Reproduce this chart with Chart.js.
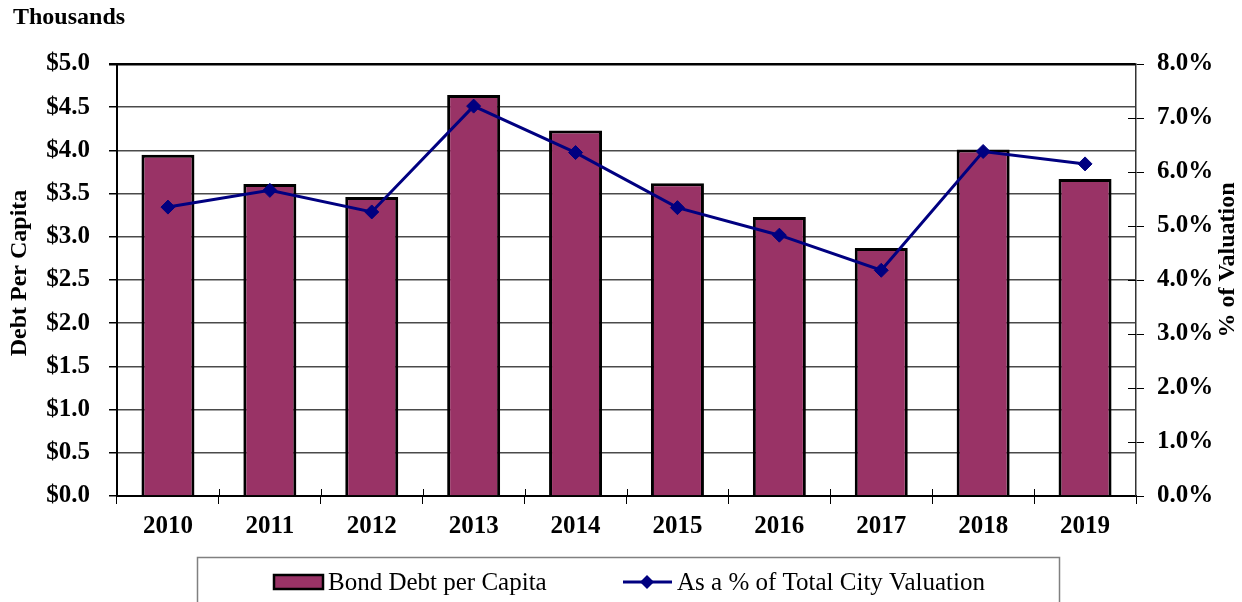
<!DOCTYPE html>
<html>
<head>
<meta charset="utf-8">
<title>Bond Debt per Capita</title>
<script src="https://cdn.jsdelivr.net/npm/chart.js@4/dist/chart.umd.min.js"></script>
<style>
  html, body { margin: 0; padding: 0; background: #fff; }
  #wrap { width: 1242px; height: 602px; position: relative; }
</style>
</head>
<body>
<div id="wrap"><canvas id="debtChart"></canvas></div>
<script>
'use strict';

// Chart data
const years = ['2010', '2011', '2012', '2013', '2014', '2015', '2016', '2017', '2018', '2019'];
const debtPerCapita = [3.95, 3.61, 3.46, 4.64, 4.23, 3.62, 3.23, 2.87, 4.01, 3.67];   // thousands of $
const pctOfValuation = [5.35, 5.66, 5.26, 7.22, 6.36, 5.34, 4.83, 4.18, 6.38, 6.15]; // percent
const debtTicks = { min: 0, max: 5, step: 0.5 };
const pctTicks = { min: 0, max: 8, step: 1 };

const serif = '"Liberation Serif", "Times New Roman", serif';
const barColor = '#993366',
  lineColor = '#000080',
  gridColor = '#4a4a4a';

// Extra decorations: unit note, axis titles, inner tick marks, legend box
const extrasPlugin = {
  id: 'extras',
  afterDraw(chart) {
    const ctx = chart.ctx;
    const area = chart.chartArea;
    const xs = chart.scales.x, yp = chart.scales.yPct;
    ctx.save();

    // inner halves of the tick marks
    ctx.strokeStyle = '#000';
    ctx.lineWidth = 1;
    ctx.beginPath();
    for (let i = 1; i < years.length; i++) {
      const px = Math.round((xs.getPixelForTick(i - 1) + xs.getPixelForTick(i)) / 2) + 0.5;
      ctx.moveTo(px, area.bottom - 7);
      ctx.lineTo(px, area.bottom);
    }
    yp.ticks.forEach(function (t) {
      const py = Math.round(yp.getPixelForValue(t.value)) + 0.5;
      ctx.moveTo(area.right - 8, py);
      ctx.lineTo(area.right, py);
    });
    ctx.stroke();

    // unit note
    ctx.fillStyle = '#000';
    ctx.font = 'bold 24px ' + serif;
    ctx.textAlign = 'left';
    ctx.textBaseline = 'alphabetic';
    ctx.fillText('Thousands', 13, 24);

    // axis titles, both read bottom to top
    ctx.textAlign = 'center';
    ctx.textBaseline = 'middle';
    ctx.save();
    ctx.translate(20, 273);
    ctx.rotate(-Math.PI / 2);
    ctx.fillText('Debt Per Capita', 0, 0);
    ctx.restore();
    ctx.save();
    ctx.translate(1228, 260);
    ctx.rotate(-Math.PI / 2);
    ctx.fillText('% of Valuation', 0, 0);
    ctx.restore();

    // legend
    ctx.strokeStyle = '#808080';
    ctx.lineWidth = 1.5;
    ctx.strokeRect(197.5, 557.5, 862, 60);

    ctx.fillStyle = barColor;
    ctx.fillRect(274, 575, 49, 14);
    ctx.strokeStyle = '#000';
    ctx.lineWidth = 2.5;
    ctx.strokeRect(274, 575, 49, 14);

    ctx.strokeStyle = lineColor;
    ctx.lineWidth = 3;
    ctx.beginPath();
    ctx.moveTo(623, 582);
    ctx.lineTo(672, 582);
    ctx.stroke();
    ctx.fillStyle = lineColor;
    ctx.beginPath();
    ctx.moveTo(640, 582);
    ctx.lineTo(647, 575);
    ctx.lineTo(654, 582);
    ctx.lineTo(647, 589);
    ctx.closePath();
    ctx.fill();

    ctx.fillStyle = '#000';
    ctx.font = '25px ' + serif;
    ctx.textAlign = 'left';
    ctx.textBaseline = 'alphabetic';
    ctx.fillText(chart.data.datasets[0].label, 328, 590);
    ctx.fillText(chart.data.datasets[1].label, 677, 590);

    ctx.restore();
  }
};

const tickFont = { family: serif, size: 25, weight: 'bold' };

new Chart(document.getElementById('debtChart'), {
  type: 'bar',
  data: {
    labels: years,
    datasets: [
      {
        type: 'bar',
        label: 'Bond Debt per Capita',
        data: debtPerCapita,
        yAxisID: 'yDebt',
        backgroundColor: barColor,
        borderColor: '#000',
        borderWidth: 3,
        categoryPercentage: 1,
        barPercentage: 0.52,
        order: 1
      },
      {
        type: 'line',
        label: 'As a % of Total City Valuation',
        data: pctOfValuation,
        yAxisID: 'yPct',
        borderColor: lineColor,
        backgroundColor: lineColor,
        borderWidth: 3,
        tension: 0,
        pointStyle: 'rectRot',
        pointRadius: 7,
        pointBorderWidth: 1,
        order: 0
      }
    ]
  },
  options: {
    responsive: true,
    maintainAspectRatio: false,
    animation: false,
    layout: { padding: { top: 64, left: 0, right: 0, bottom: 0 } },
    plugins: {
      legend: { display: false },
      tooltip: { enabled: false }
    },
    scales: {
      x: {
        offset: true,
        grid: {
          offset: true,
          drawOnChartArea: false,
          color: '#000',
          tickLength: 8
        },
        border: { color: '#000', width: 2 },
        ticks: { color: '#000', font: tickFont, padding: 8, maxRotation: 0 },
        afterFit: function (scale) { scale.height = 106; }
      },
      yDebt: {
        position: 'left',
        min: debtTicks.min,
        max: debtTicks.max,
        grid: {
          color: function (c) { return c.tick && c.tick.value === debtTicks.max ? '#000' : gridColor; },
          lineWidth: function (c) { return c.tick && c.tick.value === debtTicks.max ? 2.5 : 1.5; },
          tickColor: '#000',
          tickLength: 8
        },
        border: { color: '#000', width: 2 },
        ticks: {
          stepSize: debtTicks.step,
          color: '#000',
          font: tickFont,
          padding: 19,
          callback: function (v) { return '$' + v.toFixed(1); }
        },
        afterFit: function (scale) { scale.width = 117; }
      },
      yPct: {
        position: 'right',
        min: pctTicks.min,
        max: pctTicks.max,
        grid: {
          drawOnChartArea: false,
          color: '#000',
          tickLength: 8
        },
        border: { color: '#333', width: 1.5 },
        ticks: {
          stepSize: pctTicks.step,
          color: '#000',
          font: tickFont,
          padding: 13,
          callback: function (v) { return v.toFixed(1) + '%'; }
        },
        afterFit: function (scale) { scale.width = 106; }
      }
    }
  },
  plugins: [extrasPlugin]
});
</script>
</body>
</html>
